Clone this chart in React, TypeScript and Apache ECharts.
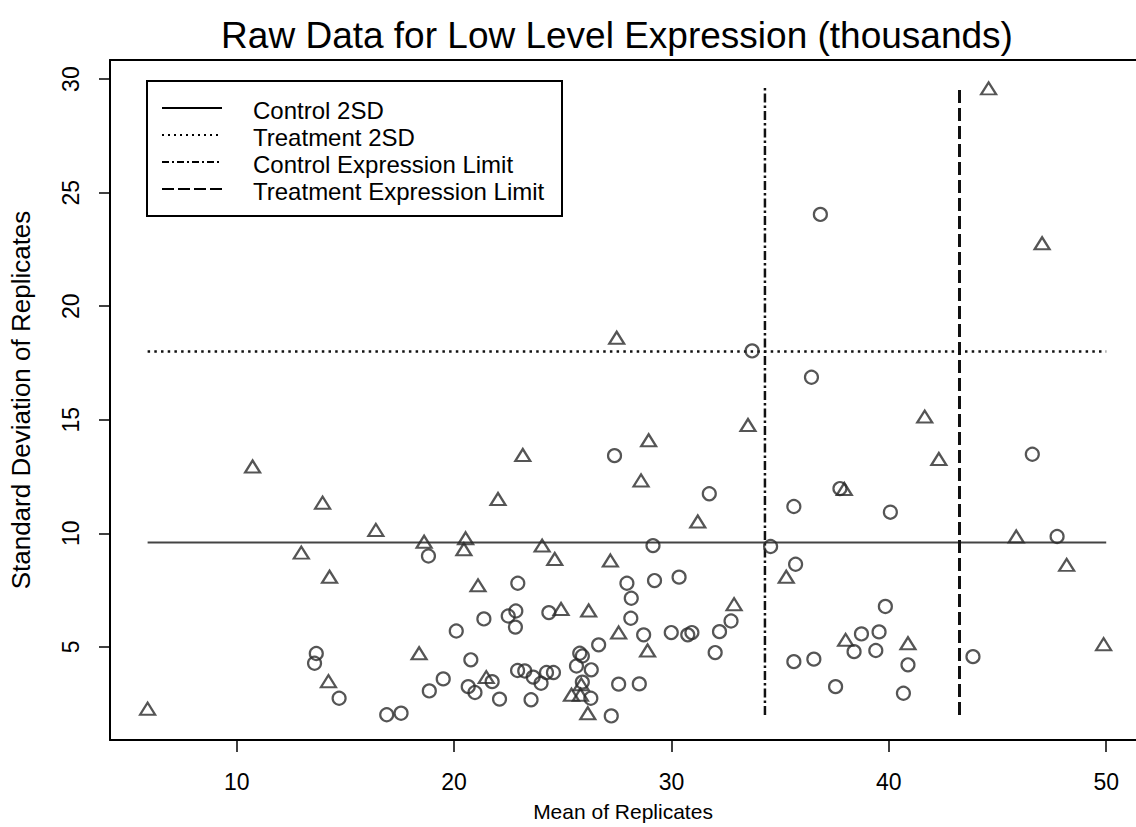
import React, { useEffect, useRef } from "react";
import * as echarts from "echarts";

const FONT = '"Liberation Sans", Arial, Helvetica, sans-serif';

const TITLE = "Raw Data for Low Level Expression (thousands)";
const X_NAME = "Mean of Replicates";
const Y_NAME = "Standard Deviation of Replicates";

const X_MIN = 4.17;
const X_MAX = 51.37;
const Y_MIN = 0.9;
const Y_MAX = 30.84;
const X_TICKS = [10, 20, 30, 40, 50];
const Y_TICKS = [5, 10, 15, 20, 25, 30];

// Hollow circles
const circleX = [
  13.66, 13.58, 14.71, 16.9, 17.56, 18.82, 18.86, 19.5, 20.1, 20.65, 20.77, 20.96, 21.37, 21.75, 22.09,
  22.49, 22.84, 22.82, 22.93, 22.92, 23.25, 23.54, 23.64, 24.0, 24.25, 24.36, 24.57, 25.63, 25.78, 25.9,
  25.9, 26.29, 26.31, 26.65, 27.23, 27.38, 27.57, 27.95, 28.13, 28.15, 28.52, 28.72, 29.15, 29.22, 29.99,
  30.35, 30.75, 30.94, 31.74, 32.01, 32.21, 32.74, 33.71, 34.56, 35.63, 35.63, 35.71, 36.44, 36.55, 36.85,
  37.55, 37.75, 38.4, 38.74, 39.4, 39.55, 39.84, 40.07, 40.67, 40.88, 43.87, 46.6, 47.74,
];
const circleY = [
  4.71, 4.28, 2.74, 2.01, 2.08, 9.0, 3.06, 3.59, 5.7, 3.25, 4.43, 2.99, 6.23, 3.47, 2.7,
  6.36, 6.58, 5.87, 7.8, 3.96, 3.94, 2.67, 3.67, 3.4, 3.87, 6.51, 3.87, 4.16, 4.72, 4.6,
  3.45, 2.74, 3.99, 5.09, 1.96, 13.42, 3.36, 7.8, 6.26, 7.14, 3.37, 5.53, 9.46, 7.92, 5.63,
  8.07, 5.53, 5.63, 11.74, 4.75, 5.67, 6.14, 18.03, 9.42, 11.18, 4.35, 8.64, 16.87, 4.46, 24.04,
  3.25, 11.97, 4.79, 5.57, 4.84, 5.66, 6.78, 10.93, 2.96, 4.21, 4.57, 13.48, 9.86,
];

// Hollow triangles
const triangleX = [
  5.9, 10.73, 12.97, 13.95, 14.27, 14.22, 16.4, 18.62, 18.39, 20.53, 20.45, 21.1, 21.48, 22.02, 23.16,
  24.05, 24.63, 24.92, 25.4, 25.81, 25.85, 26.15, 26.19, 27.19, 27.48, 27.57, 28.6, 28.9, 28.95, 31.21,
  32.88, 33.52, 35.28, 37.95, 38.01, 40.88, 41.65, 42.3, 44.59, 45.86, 47.05, 48.18, 49.88,
];
const triangleY = [
  2.28, 12.94, 9.15, 11.35, 8.09, 3.49, 10.15, 9.63, 4.72, 9.78, 9.3, 7.71, 3.67, 11.51, 13.45,
  9.46, 8.87, 6.67, 2.89, 2.89, 3.35, 2.08, 6.6, 8.8, 18.61, 5.63, 12.33, 4.84, 14.1, 10.52,
  6.88, 14.77, 8.09, 11.95, 5.31, 5.16, 15.14, 13.27, 29.59, 9.86, 22.77, 8.61, 5.12,
];

// Reference lines
const LEGEND_NAMES = ["Control 2SD", "Treatment 2SD", "Control Expression Limit", "Treatment Expression Limit"];
const controlSD = 9.6;
const treatmentSD = 18.0;
const controlLimit = 34.3;
const treatmentLimit = 43.25;
const hLineX = [5.9, 50.0];
const vLineY = [2.0, 29.62];

const DASHES: any[] = ["solid", [2.5, 4.2], [9, 3, 2.5, 3], [13, 5]];
const WIDTHS = [2, 2.5, 2.5, 3];
const COLORS = ["#444", "#111", "#111", "#111"];

export default function App() {
  const ref = useRef<HTMLDivElement>(null);
  useEffect(() => {
    document.body.style.margin = "0";
    const chart = echarts.init(ref.current!, null, { renderer: "svg" });
    const pts = (xs: number[], ys: number[]) => xs.map((x, i) => [x, ys[i]]);
    const lineSeries = [
      { name: LEGEND_NAMES[0], data: [[hLineX[0], controlSD], [hLineX[1], controlSD]] },
      { name: LEGEND_NAMES[1], data: [[hLineX[0], treatmentSD], [hLineX[1], treatmentSD]] },
      { name: LEGEND_NAMES[2], data: [[controlLimit, vLineY[0]], [controlLimit, vLineY[1]]] },
      { name: LEGEND_NAMES[3], data: [[treatmentLimit, vLineY[0]], [treatmentLimit, vLineY[1]]] },
    ].map((s, i) => ({
      type: "line",
      name: s.name,
      data: s.data,
      symbol: "none",
      silent: true,
      z: 1,
      lineStyle: { color: COLORS[i], width: WIDTHS[i], type: DASHES[i] },
    }));

    const legendX0 = 162;
    const legendX1 = 222;
    const rowY = [110, 137, 164, 191];
    const legendGraphics: any[] = [
      {
        type: "rect",
        shape: { x: 147, y: 81, width: 415, height: 135 },
        style: { fill: "#fff", stroke: "#000", lineWidth: 2 },
        z: 10,
      },
    ];
    LEGEND_NAMES.forEach((name, i) => {
      legendGraphics.push({
        type: "line",
        shape: { x1: legendX0, y1: rowY[i] - 2, x2: legendX1, y2: rowY[i] - 2 },
        style: {
          stroke: "#000",
          lineWidth: 2,
          lineDash: i === 0 ? null : i === 1 ? [2, 4] : i === 2 ? [7, 3, 2, 3] : [12, 4],
        },
        z: 11,
      });
      legendGraphics.push({
        type: "text",
        x: 253,
        y: rowY[i],
        style: {
          text: name,
          font: `24px ${FONT}`,
          fill: "#000",
          verticalAlign: "middle",
          align: "left",
        },
        z: 11,
      });
    });

    chart.setOption({
      animation: false,
      backgroundColor: "#fff",
      title: {
        text: TITLE,
        left: 612,
        top: 12,
        textAlign: "center",
        textStyle: { fontFamily: FONT, fontSize: 37, fontWeight: "normal", color: "#000" },
      },
      grid: { left: 108, right: 0, top: 60, bottom: 87 },
      xAxis: [
        {
          type: "value",
          min: X_MIN,
          max: X_MAX,
          splitLine: { show: false },
          axisLine: { show: true, onZero: false, lineStyle: { color: "#000", width: 2 } },
          axisTick: { show: true, customValues: X_TICKS, length: 12, lineStyle: { color: "#000", width: 1.5 } },
          axisLabel: { customValues: X_TICKS, margin: 30, fontSize: 23, color: "#000", fontFamily: FONT },
          name: X_NAME,
          nameLocation: "middle",
          nameGap: 61,
          nameTextStyle: { fontSize: 21, color: "#000", fontFamily: FONT },
        },
        {
          type: "value",
          position: "top",
          min: X_MIN,
          max: X_MAX,
          splitLine: { show: false },
          axisLine: { show: true, onZero: false, lineStyle: { color: "#000", width: 2 } },
          axisTick: { show: false },
          axisLabel: { show: false },
        },
      ],
      yAxis: {
        type: "value",
        min: Y_MIN,
        max: Y_MAX,
        splitLine: { show: false },
        axisLine: { show: true, onZero: false, lineStyle: { color: "#000", width: 2 } },
        axisTick: { show: true, customValues: Y_TICKS, length: 11, lineStyle: { color: "#000", width: 1.5 } },
        axisLabel: { customValues: Y_TICKS, rotate: 90, margin: 28, fontSize: 23, color: "#000", fontFamily: FONT },
        name: Y_NAME,
        nameLocation: "middle",
        nameGap: 76,
        nameTextStyle: { fontSize: 26, color: "#000", fontFamily: FONT },
      },
      graphic: legendGraphics,
      series: [
        ...lineSeries,
        {
          type: "scatter",
          name: "Circles",
          data: pts(circleX, circleY),
          symbol: "circle",
          symbolSize: 13,
          z: 3,
          itemStyle: { color: "rgba(0,0,0,0)", borderColor: "#2a2a2a", borderWidth: 2.2 },
        },
        {
          type: "scatter",
          name: "Triangles",
          data: pts(triangleX, triangleY),
          symbol: "triangle",
          symbolSize: [15, 12],
          z: 3,
          itemStyle: { color: "rgba(0,0,0,0)", borderColor: "#2a2a2a", borderWidth: 2.2 },
        },
      ],
    });
    return () => chart.dispose();
  }, []);
  return <div ref={ref} style={{ width: 1136, height: 827 }} />;
}
